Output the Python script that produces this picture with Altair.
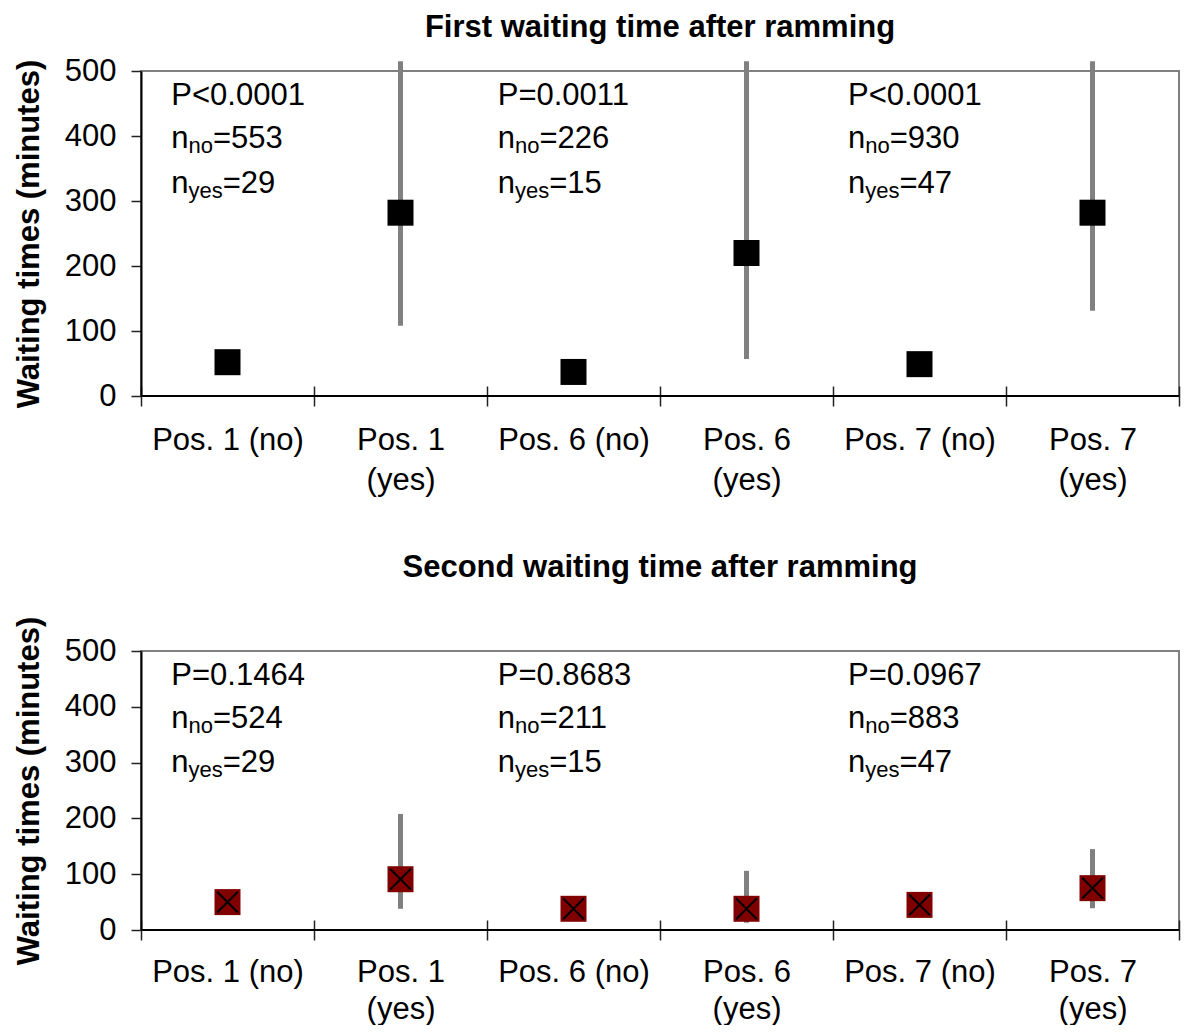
import altair as alt
import pandas as pd

FONT = "Liberation Sans"

# ---- data ----
label_lines = [["Pos. 1 (no)"], ["Pos. 1", "(yes)"], ["Pos. 6 (no)"], ["Pos. 6", "(yes)"],
               ["Pos. 7 (no)"], ["Pos. 7", "(yes)"]]
cat_pos = [0.5, 1.5, 2.5, 3.5, 4.5, 5.5]
boundaries = [0, 1, 2, 3, 4, 5, 6]

first_mean = [52, 282, 37, 220, 49, 282]
first_err_x = [1.5, 3.5, 5.5]
first_low = [108, 57, 131]
first_high = [515, 515, 515]

second_mean = [50, 91, 38, 38, 45, 75]
second_err_x = [1.5, 3.5, 5.5]
second_low = [38, 13, 39]
second_high = [208, 106, 145]

annot_x = [0.175, 2.062, 4.087]
p_first = ["P<0.0001", "P=0.0011", "P<0.0001"]
nno_first = ["553", "226", "930"]
nyes_first = ["29", "15", "47"]
lines_first = [448, 382, 312]

p_second = ["P=0.1464", "P=0.8683", "P=0.0967"]
nno_second = ["524", "211", "883"]
nyes_second = ["29", "15", "47"]
lines_second = [439, 362, 283]

y_ticks = [0, 100, 200, 300, 400, 500]

MAIN = 31
SUB = 22
W_N = 0.556 * MAIN
W_NO = 1.112 * SUB
W_YES = 1.556 * SUB
PLOT_W = 1038

label_expr = "[" + ",".join("[" + ",".join("'" + s + "'" for s in l) + "]" for l in label_lines) + "][floor(datum.value)]"


def panel(title, title_offset, height, means, err_x, lows, highs, fill, cross,
          ps, nnos, nyess, ylines, lab_pad, lab_lh):
    xscale = alt.Scale(domain=[0, 6], nice=False, zero=False)
    yscale = alt.Scale(domain=[0, 500], nice=False)
    yaxis = alt.Axis(values=y_ticks, title="Waiting times (minutes)", grid=False,
                     domainColor="black", domainWidth=2, tickColor="#222", tickWidth=1.5,
                     tickSize=10, labelPadding=15, titlePadding=19, labelFontSize=MAIN,
                     titleFontSize=MAIN, titleFontWeight="bold", labelColor="black",
                     titleColor="black", labelFont=FONT, titleFont=FONT)
    xaxis_labels = alt.Axis(values=cat_pos, labelExpr=label_expr, ticks=False, tickSize=0,
                            domain=False, grid=False, title=None, labelPadding=lab_pad,
                            labelLineHeight=lab_lh, labelFontSize=MAIN, labelColor="black",
                            labelFont=FONT, orient="bottom", labelAngle=0)
    xaxis_ticks = alt.Axis(values=boundaries, labels=False, tickSize=20, offset=-10,
                           domain=False, grid=False, title=None, tickColor="#222",
                           tickWidth=1.5, orient="bottom")

    base = alt.Chart(pd.DataFrame({"x0": [0], "x1": [6], "y0": [0]})).mark_rule(
        color="black", strokeWidth=2).encode(
        x=alt.X("x0:Q", scale=xscale, axis=xaxis_ticks), x2="x1:Q",
        y=alt.Y("y0:Q", scale=yscale, axis=yaxis))

    bars = alt.Chart(pd.DataFrame({"x": err_x, "low": lows, "high": highs})).mark_rule(
        color="#808080", strokeWidth=5, clip=False).encode(
        x=alt.X("x:Q", scale=xscale, axis=xaxis_labels),
        y=alt.Y("low:Q", scale=yscale, axis=yaxis), y2="high:Q")

    pts_df = pd.DataFrame({"x": cat_pos, "m": means})
    pts = alt.Chart(pts_df).mark_point(shape="square", size=676, filled=True, fill=fill,
                                       opacity=1, strokeWidth=0).encode(
        x=alt.X("x:Q", scale=xscale, axis=None),
        y=alt.Y("m:Q", scale=yscale, axis=yaxis))
    layers = [base, bars, pts]
    if cross:
        layers.append(alt.Chart(pts_df).mark_point(
            shape="M-0.8,-0.8L0.8,0.8M-0.8,0.8L0.8,-0.8", size=676, filled=False,
            stroke="black", strokeWidth=2, opacity=1).encode(
            x=alt.X("x:Q", scale=xscale, axis=None),
            y=alt.Y("m:Q", scale=yscale, axis=yaxis)))

    def txt(xs, ys, ts, size, dx, dy):
        return alt.Chart(pd.DataFrame({"x": xs, "y": ys, "t": ts})).mark_text(
            align="left", baseline="alphabetic", font=FONT, fontSize=size, dx=dx, dy=dy,
            color="black").encode(
            x=alt.X("x:Q", scale=xscale, axis=None),
            y=alt.Y("y:Q", scale=yscale, axis=yaxis), text="t:N")

    layers += [
        txt(annot_x, [ylines[0]] * 3, ps, MAIN, 0, 0),
        txt(annot_x + annot_x, [ylines[1]] * 3 + [ylines[2]] * 3, ["n"] * 6, MAIN, 0, 0),
        txt(annot_x, [ylines[1]] * 3, ["no"] * 3, SUB, W_N, 5),
        txt(annot_x, [ylines[2]] * 3, ["yes"] * 3, SUB, W_N, 5),
        txt(annot_x, [ylines[1]] * 3, ["=" + v for v in nnos], MAIN, W_N + W_NO, 0),
        txt(annot_x, [ylines[2]] * 3, ["=" + v for v in nyess], MAIN, W_N + W_YES, 0),
    ]
    return alt.layer(*layers).resolve_axis(x="independent").properties(
        width=PLOT_W, height=height,
        title=alt.TitleParams(title, fontSize=MAIN, font=FONT, fontWeight="bold",
                              color="black", offset=title_offset, anchor="middle"))


top = panel("First waiting time after ramming", 11, 325, first_mean, first_err_x,
            first_low, first_high, "black", False, p_first, nno_first, nyes_first,
            lines_first, 29, 40)
bottom = panel("Second waiting time after ramming", 32, 279, second_mean, second_err_x,
               second_low, second_high, "#800000", True, p_second, nno_second,
               nyes_second, lines_second, 27, 37)

chart = alt.vconcat(top, bottom, spacing=55).resolve_scale(
    x="independent", y="independent").configure(
    padding={"left": 4, "top": 3, "right": 0, "bottom": 0}).configure_view(
    stroke="#808080", strokeWidth=2)

chart.save("out.html", embed_options={"renderer": "svg", "actions": False})
